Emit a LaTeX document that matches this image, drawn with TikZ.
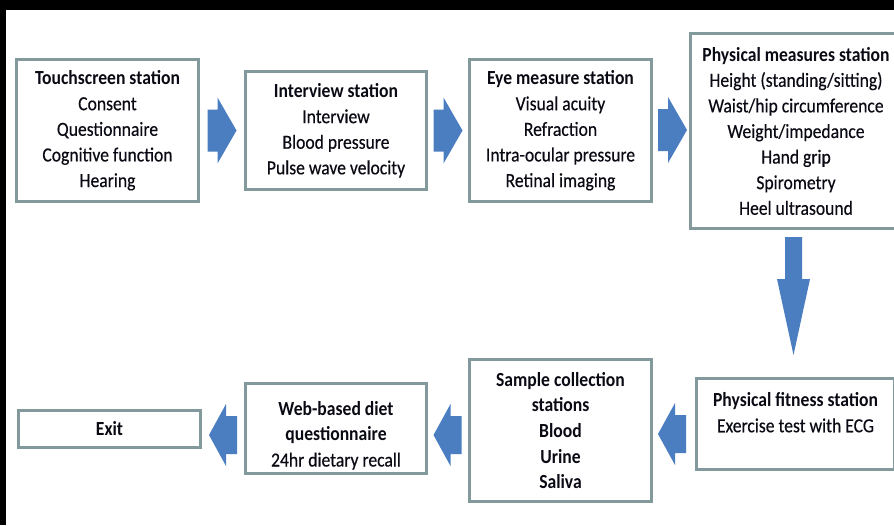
\documentclass[tikz,border=0pt]{standalone}
\usepackage{fontspec}
\setmainfont{Carlito}[FakeStretch=0.88, UprightFeatures={FakeBold=0.35}]
\usetikzlibrary{calc}
\definecolor{boxgray}{RGB}{130,154,155}
\definecolor{arrblue}{RGB}{74,126,193}
\definecolor{txtc}{RGB}{10,10,20}
\begin{document}
\begin{tikzpicture}[x=1pt, y=-1pt,
  box/.style={draw=boxgray, line width=3pt, fill=white, inner sep=0pt},
  txtf/.style={font=\fontsize{20}{25.6}\selectfont, text=txtc, align=center},
  rarr/.pic={\fill[arrblue] (-14.5,-21) -- (-4.5,-21) -- (-4.5,-33) -- (14.5,0) -- (-4.5,33) -- (-4.5,21) -- (-14.5,21) -- cycle;},
  larr/.pic={\fill[arrblue] (-14,0) -- (3,-31) -- (3,-19) -- (14,-19) -- (14,19) -- (3,19) -- (3,31) -- cycle;},
  darr/.pic={\fill[arrblue] (-8.5,-59) -- (8.5,-59) -- (8.5,-17) -- (16.5,-17) -- (0,59) -- (-16.5,-17) -- (-8.5,-17) -- cycle;}
]
\useasboundingbox (0,0) rectangle (894,525);
\fill[white] (0,0) rectangle (894,525);
\begin{scope}
\clip (0,0) rectangle (894,525);
\node[box, txtf, minimum width=182pt, minimum height=142pt] (b1) at (107.5,130.5)
  {\textbf{Touchscreen station}\\Consent\\Questionnaire\\Cognitive function\\Hearing};
\node[box, txtf, minimum width=181pt, minimum height=118pt] (b2) at (336,130.5)
  {\textbf{Interview station}\\Interview\\Blood pressure\\Pulse wave velocity};
\node[box, txtf, minimum width=182pt, minimum height=142pt] (b3) at (560.5,130.5)
  {\textbf{Eye measure station}\\Visual acuity\\Refraction\\Intra-ocular pressure\\Retinal imaging};
\node[box, txtf, minimum width=211pt, minimum height=195pt] (b4) at (796,131)
  {\textbf{Physical measures station}\\Height (standing/sitting)\\Waist/hip circumference\\Weight/impedance\\Hand grip\\Spirometry\\Heel ultrasound};
\node[box, minimum width=198pt, minimum height=91pt] (b5) at (795.5,424) {};
\node[txtf] (t5) at (795.5,412.5) {\textbf{Physical fitness station}\\Exercise test with ECG};
\node[box, txtf, minimum width=182pt, minimum height=142pt] (b6) at (560.5,430.5)
  {\textbf{Sample collection}\\\textbf{stations}\\\textbf{Blood}\\\textbf{Urine}\\\textbf{Saliva}};
\node[box, minimum width=181pt, minimum height=90pt] (b7) at (336,428.5) {};
\node[txtf] (t7) at (336,435.5) {\textbf{Web-based diet}\\\textbf{questionnaire}\\24hr dietary recall};
\node[box, txtf, minimum width=182pt, minimum height=37pt] (b8) at (109.5,429) {\textbf{Exit}};
\pic at ($(b1.east)!0.5!(b2.west)$) {rarr};
\pic at ($(b2.east)!0.5!(b3.west)$) {rarr};
\pic at (672.5,130) {rarr};
\pic at (793.5,296) {darr};
\pic at (672,434) {larr};
\pic at (447.5,435) {larr};
\pic at (223,435) {larr};
\end{scope}
\fill[black] (0,0) rectangle (894,10);
\fill[black] (0,0) rectangle (6,525);
\end{tikzpicture}
\end{document}
